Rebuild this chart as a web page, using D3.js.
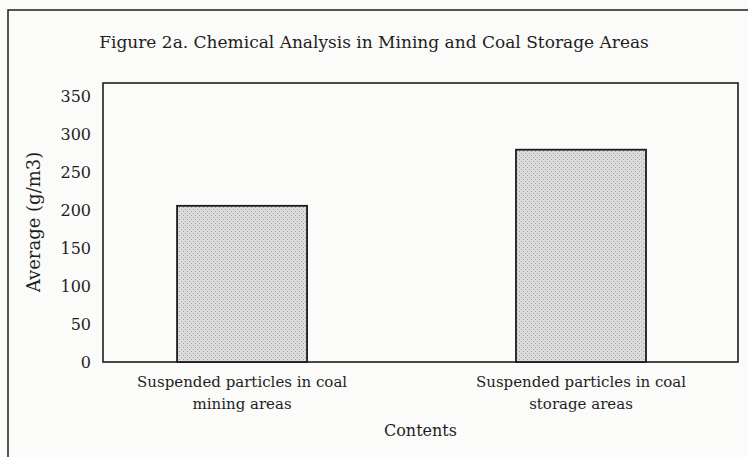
<!DOCTYPE html>
<html>
<head>
<meta charset="UTF-8">
<script src="https://d3js.org/d3.v7.min.js"></script>
<style>
  body { margin: 0; background: #fbfbfa; }
  svg text { font-family: "DejaVu Serif", serif; fill: #1e1e1e; }
</style>
</head>
<body>
<div id="chart"></div>
<script>
// chart data
const categories = ["Suspended particles in coal mining areas", "Suspended particles in coal storage areas"];
const labelLines = [["Suspended particles in coal", "mining areas"], ["Suspended particles in coal", "storage areas"]];
const averages = [206, 280];
const yTicks = [0, 50, 100, 150, 200, 250, 300, 350];
const titleText = "Figure 2a. Chemical Analysis in Mining and Coal Storage Areas";
const yLabel = "Average (g/m3)";
const xLabel = "Contents";

const W = 748, H = 457;
const margin = { top: 83, right: 10, bottom: 95, left: 103 };
const width = W - margin.left - margin.right;
const height = H - margin.top - margin.bottom;

const svg = d3.select("#chart").append("svg")
  .attr("width", W).attr("height", H);

// outer frame of the figure
svg.append("rect")
  .attr("x", 8).attr("y", 10)
  .attr("width", W).attr("height", H)
  .attr("fill", "none").attr("stroke", "#2a2a2a").attr("stroke-width", 1.6);

svg.append("text")
  .attr("x", W / 2).attr("y", 48)
  .attr("text-anchor", "middle")
  .style("font-size", "17px")
  .text(titleText);

const g = svg.append("g").attr("transform", `translate(${margin.left},${margin.top})`);

const x = d3.scaleBand()
  .domain(categories)
  .range([0, width])
  .paddingInner(0.6165)
  .paddingOuter(0.245)
  .align(0.446);

const y = d3.scaleLinear()
  .domain([0, 368])
  .range([height, 0]);

// plot box
g.append("rect")
  .attr("x", 0).attr("y", 0)
  .attr("width", width).attr("height", height)
  .attr("fill", "none").attr("stroke", "#1e1e1e").attr("stroke-width", 1.6);

// stipple pattern for bars
const defs = svg.append("defs");
const pat = defs.append("pattern")
  .attr("id", "stipple").attr("patternUnits", "userSpaceOnUse")
  .attr("width", 4).attr("height", 4);
pat.append("rect").attr("width", 4).attr("height", 4).attr("fill", "#dcdcdc");
pat.append("rect").attr("x", 0).attr("y", 0).attr("width", 1).attr("height", 1).attr("fill", "#a0a0a0");
pat.append("rect").attr("x", 2).attr("y", 2).attr("width", 1).attr("height", 1).attr("fill", "#adadad");

g.selectAll(".bar")
  .data(averages)
  .join("rect")
  .attr("class", "bar")
  .attr("x", (d, i) => x(categories[i]))
  .attr("y", d => y(d))
  .attr("width", x.bandwidth())
  .attr("height", d => height - y(d))
  .attr("fill", "url(#stipple)")
  .attr("stroke", "#1a1a1a").attr("stroke-width", 1.8);

// y axis (labels only)
const yAxis = g.append("g")
  .call(d3.axisLeft(y).tickValues(yTicks).tickSize(0).tickPadding(12));
yAxis.select(".domain").remove();
yAxis.selectAll("text")
  .style("font-family", "'DejaVu Serif', serif")
  .style("font-size", "16px")
  .attr("fill", "#1e1e1e");

// x axis labels
const xAxis = g.append("g").attr("transform", `translate(0,${height})`)
  .call(d3.axisBottom(x).tickSize(0).tickFormat(""));
xAxis.select(".domain").remove();
xAxis.selectAll(".tick").each(function(d, i) {
  const t = d3.select(this).append("text")
    .attr("text-anchor", "middle")
    .style("font-size", "15px")
    .attr("fill", "#1e1e1e");
  labelLines[i].forEach((line, k) => {
    t.append("tspan").attr("x", 0).attr("y", 25 + k * 22).text(line);
  });
});

g.append("text")
  .attr("x", width / 2).attr("y", height + 74)
  .attr("text-anchor", "middle")
  .style("font-size", "16px")
  .text(xLabel);

svg.append("text")
  .attr("transform", "rotate(-90)")
  .attr("x", -222).attr("y", 40)
  .attr("text-anchor", "middle")
  .style("font-size", "18px")
  .text(yLabel);
</script>
</body>
</html>
